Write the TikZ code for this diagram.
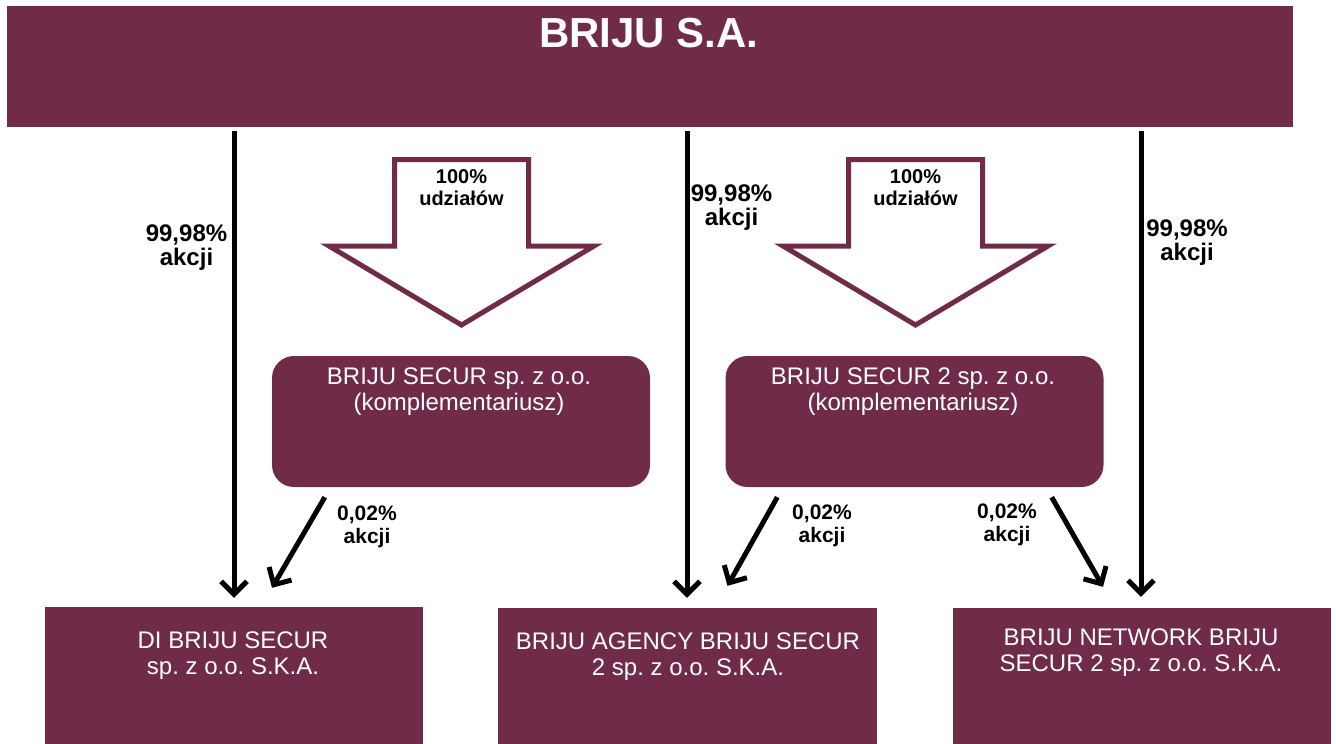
\documentclass[tikz,border=0pt]{standalone}
\usepackage{fontspec}
\setmainfont{Liberation Sans}
\usetikzlibrary{arrows.meta,calc}
\definecolor{maroon}{RGB}{111,43,71}
\frenchspacing
\begin{document}
\frenchspacing
\begin{tikzpicture}[x=1pt,y=-1pt,
  box/.style={fill=maroon, draw=none, inner sep=0pt},
  rbox/.style={box, rounded corners=22pt},
  wtext/.style={text=white, inner sep=0pt, align=center, font=\fontsize{24}{26}\selectfont},
  lab/.style={inner sep=0pt, align=center, font=\bfseries\fontsize{24}{24}\selectfont},
  slab/.style={inner sep=0pt, align=center, font=\bfseries\fontsize{21}{23}\selectfont},
  utext/.style={inner sep=0pt, align=center, font=\bfseries\fontsize{20}{22}\selectfont},
  conn/.style={line width=5pt, -{Straight Barb[length=13pt,width=26pt]}},
  barrow/.style={draw=maroon, line width=5pt, fill=white, line join=miter},
]
\useasboundingbox (0,0) rectangle (1336,744);
% boxes
\node[box, minimum width=1286pt, minimum height=121pt] (top) at (650,66.5) {};
\node[rbox, minimum width=378pt, minimum height=131pt] (r1) at (461,421.5) {};
\node[rbox, minimum width=378pt, minimum height=131pt] (r2) at (914.5,421.5) {};
\node[box, minimum width=378pt, minimum height=137pt] (b1) at (234,675.5) {};
\node[box, minimum width=379pt, minimum height=136pt] (b2) at (687.5,676) {};
\node[box, minimum width=378pt, minimum height=136pt] (b3) at (1142,676) {};
% block arrows
\draw[barrow] (394.5,159.5) -- (528.5,159.5) -- (528.5,246) -- (594,246) -- (461.5,325) -- (329,246) -- (394.5,246) -- cycle;
\draw[barrow] (848.5,159.5) -- (982.5,159.5) -- (982.5,246) -- (1048,246) -- (915.5,325) -- (783,246) -- (848.5,246) -- cycle;
% connectors
\draw[conn] ($(top.south -| b1.north)+(0,4)$) -- ($(b1.north)+(0,-9)$);
\draw[conn] ($(top.south -| b2.north)+(-0.5,4)$) -- ($(b2.north)+(-0.5,-10)$);
\draw[conn] ($(top.south -| b3.north)+(-1,4)$) -- ($(b3.north)+(-1,-11)$);
\draw[conn] ($(r1.south west)+(53,10)$) -- ($(b1.north)+(38,-19)$);
\draw[conn] ($(r2.south west)+(52,10)$) -- ($(b2.north)+(40,-22)$);
\draw[conn] ($(r2.south east)+(-52,10)$) -- ($(b3.north)+(-39,-21)$);
% texts
\node[text=white, inner sep=0pt, font=\bfseries\fontsize{42}{42}\selectfont, anchor=base] (title) at (649,47) {BRIJU S.A.};
\node[wtext, anchor=north] (r1t) at (459,368) {BRIJU SECUR sp. z o.o.\\(komplementariusz)};
\node[wtext, anchor=north] (r2t) at (913,368) {BRIJU SECUR 2 sp. z o.o.\\(komplementariusz)};
\node[wtext, anchor=north] (b1t) at (233,632) {DI BRIJU SECUR\\sp. z o.o. S.K.A.};
\node[wtext, anchor=north] (b2t) at (688,633) {BRIJU AGENCY BRIJU SECUR\\2 sp. z o.o. S.K.A.};
\node[wtext, anchor=north] (b3t) at (1141,629) {BRIJU NETWORK BRIJU\\SECUR 2 sp. z o.o. S.K.A.};
\node[lab, anchor=north] (l1) at (186.5,225) {99,98\%\\akcji};
\node[lab, anchor=north] (l2) at (731.5,185) {99,98\%\\akcji};
\node[lab, anchor=north] (l3) at (1187,220) {99,98\%\\akcji};
\node[slab, anchor=north] (s1) at (367,506) {0,02\%\\akcji};
\node[slab, anchor=north] (s2) at (822,505) {0,02\%\\akcji};
\node[slab, anchor=north] (s3) at (1007,504) {0,02\%\\akcji};
\node[utext, anchor=north] (u1) at (461.5,169) {100\%\\udziałów};
\node[utext, anchor=north] (u2) at (915.5,169) {100\%\\udziałów};
\end{tikzpicture}
\end{document}
